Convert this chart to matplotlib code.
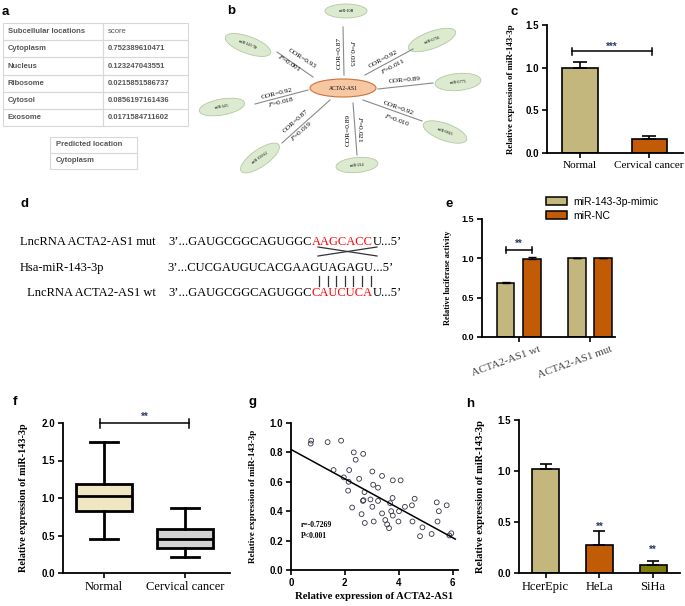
import matplotlib
matplotlib.use('Agg')
import matplotlib.pyplot as plt
import matplotlib.transforms as mtrans
from matplotlib.patches import Ellipse, Rectangle

plt.rcParams['font.family'] = 'Liberation Serif'
plt.rcParams['mathtext.fontset'] = 'stix'

W, H = 685, 606
SANS = 'Liberation Sans'
TAN = '#C4B77D'
ORANGE = '#C25B05'
OLIVE = '#7E7E0A'
STAR = '#2B3A67'

# ---- data ----
loc_names = ['Cytoplasm', 'Nucleus', 'Ribosome', 'Cytosol', 'Exosome']
loc_scores = ['0.752389610471', '0.123247043551', '0.0215851586737',
              '0.0856197161436', '0.0171584711602']
predicted = 'Cytoplasm'

hub = 'ACTA2-AS1'
mirnas = ['miR-10B', 'miR-6756', 'miR-6775', 'miR-6843',
          'miR-214', 'miR-199A2', 'miR-145', 'miR-143-3p']
cor = ['0.87', '0.92', '0.89', '0.92', '0.89', '0.87', '0.92', '0.93']
pval = ['0.035', '0.011', None, '0.010', '0.021', '0.019', '0.018', '0.001']

c_groups = ['Normal', 'Cervical cancer']
c_mean = [1.0, 0.165]
c_err = [0.07, 0.035]

d_names = ['LncRNA ACTA2-AS1 mut', 'Hsa-miR-143-3p', ' LncRNA ACTA2-AS1 wt']
d_seqs = [['3’...GAUGCGGCAGUGGC', 'AAGCACC', 'U...5’'],
          ['3’...CUCGAUGUCACGAAGUAGAGU...5’', '', ''],
          ['3’...GAUGCGGCAGUGGC', 'CAUCUCA', 'U...5’']]

e_groups = ['ACTA2-AS1 wt', 'ACTA2-AS1 mut']
e_mimic = [0.69, 1.0]
e_mimic_err = [0.015, 0.008]
e_nc = [0.99, 1.0]
e_nc_err = [0.03, 0.008]

f_groups = ['Normal', 'Cervical cancer']
f_whislo = [0.45, 0.21]
f_q1 = [0.83, 0.34]
f_med = [1.03, 0.45]
f_q3 = [1.19, 0.59]
f_whishi = [1.75, 0.87]

g_x = [0.75, 0.73, 1.36, 1.86, 2.33, 2.40, 2.68, 1.58, 2.16, 1.96,
       2.14, 2.53, 3.02, 3.38, 3.78, 4.07, 3.05, 3.23, 2.12, 2.73,
       2.95, 2.69, 2.67, 3.23, 3.68, 3.77, 4.59, 4.23, 4.49, 2.27,
       3.02, 3.72, 4.01, 3.38, 2.62, 3.78, 3.50, 3.07, 2.74, 3.99,
       4.51, 3.57, 3.64, 4.88, 4.79, 5.22, 5.41, 5.49, 5.44, 5.78,
       5.95, 5.88]
g_y = [0.88, 0.86, 0.87, 0.88, 0.80, 0.75, 0.79, 0.68, 0.68, 0.63,
       0.60, 0.62, 0.67, 0.64, 0.61, 0.61, 0.58, 0.56, 0.54, 0.53,
       0.48, 0.475, 0.47, 0.47, 0.455, 0.49, 0.485, 0.43, 0.44, 0.425,
       0.43, 0.40, 0.40, 0.385, 0.38, 0.37, 0.34, 0.33, 0.32, 0.33,
       0.33, 0.31, 0.285, 0.29, 0.23, 0.245, 0.46, 0.40, 0.33, 0.44,
       0.25, 0.235]
g_fit_x = [0, 6.1]
g_fit_y = [0.82, 0.21]

h_groups = ['HcerEpic', 'HeLa', 'SiHa']
h_mean = [1.02, 0.27, 0.08]
h_err = [0.05, 0.14, 0.04]

fig = plt.figure(figsize=(W / 100, H / 100), dpi=100)

# overlay in pixel coords for tables, network, sequences and letters
ov = fig.add_axes([0, 0, 1, 1])
ov.set_xlim(0, W)
ov.set_ylim(H, 0)
ov.axis('off')


def px_axes(l, t, r, b):
    ax = fig.add_axes([l / W, 1 - b / H, (r - l) / W, (b - t) / H])
    ax.set_facecolor('none')
    return ax


def style(ax, ylim, yticks, fs=7):
    for s in ['top', 'right']:
        ax.spines[s].set_visible(False)
    for s in ['left', 'bottom']:
        ax.spines[s].set_linewidth(1.3)
    ax.set_ylim(*ylim)
    ax.set_yticks(yticks)
    ax.set_yticklabels(['%.1f' % v for v in yticks], fontfamily=SANS,
                       fontweight='bold', fontsize=fs)
    ax.tick_params(width=1.2, length=3.5, pad=2)


def bracket(ax, x0, x1, y, tick, text, ty, fs=7):
    ax.plot([x0, x1], [y, y], color='black', lw=1.1, clip_on=False)
    for x in (x0, x1):
        ax.plot([x, x], [y - tick, y + tick], color='black', lw=1.1, clip_on=False)
    ax.text((x0 + x1) / 2, ty, text, ha='center', va='center', fontsize=fs,
            color=STAR, fontweight='bold', fontfamily=SANS)


# panel letters
for lab, x, y in [('a', 2, 15), ('b', 227, 14), ('c', 511, 15), ('d', 21, 207),
                  ('e', 446, 207), ('f', 13, 405), ('g', 249, 405), ('h', 466, 407)]:
    ov.text(x, y, lab, fontsize=9.5, fontweight='bold', fontfamily=SANS, va='baseline')

# ---- a: tables ----
tx0, tsplit, tx1, ty0, rh = 3, 103, 188, 23, 17.2
rows = [('Subcellular locations', 'score')] + list(zip(loc_names, loc_scores))
for i, (a, b) in enumerate(rows):
    y = ty0 + i * rh
    ov.add_patch(Rectangle((tx0, y), tsplit - tx0, rh, fill=False, ec='#D8D8D8', lw=0.8))
    ov.add_patch(Rectangle((tsplit, y), tx1 - tsplit, rh, fill=False, ec='#D8D8D8', lw=0.8))
    ov.text(tx0 + 5, y + rh / 2, a, fontsize=5.5, fontfamily=SANS, color='#555555',
            fontweight='bold', va='center')
    ov.text(tsplit + 5, y + rh / 2, b, fontsize=5.5, fontfamily=SANS, color='#555555',
            fontweight='bold' if i > 0 else 'normal', va='center')
for i, t in enumerate(['Predicted location', predicted]):
    y = 137 + i * 16
    ov.add_patch(Rectangle((50, y), 87, 16, fill=False, ec='#D8D8D8', lw=0.8))
    ov.text(56, y + 8, t, fontsize=5.5, fontfamily=SANS, color='#555555',
            fontweight='bold', va='center')

# ---- b: network ----
hub_xy = (343, 88)
nodes = [(346, 11, 0, 42, 14), (432, 40, -20, 50, 17), (458, 82, -5, 46, 17),
         (445, 132, 20, 46, 17), (357, 165, -5, 42, 15), (260, 158, -35, 46, 17),
         (222, 107, -10, 46, 16), (248, 45, 20, 48, 17)]
edges = [((343, 27), (344, 75)), ((365, 75), (413, 49)), ((378, 89), (433, 83)),
         ((363, 100), (422, 121)), ((353, 103), (357, 155)), ((330, 100), (282, 143)),
         ((308, 90), (255, 104)), ((277, 52), (313, 77))]
cor_pos = [(339, 53, 90), (383, 59, 28), (405, 80, 5), (398, 108, -20),
           (348, 130, 90), (296, 121, 42), (277, 94, 14), (302, 58, -33)]
p_pos = [(352, 53, 270), (393, 66, 28), None, (397, 120, -20),
         (360, 129, 270), (301, 131, 42), (281, 102, 14), (289, 63, -33)]
for (x0, y0), (x1, y1) in edges:
    ov.plot([x0, x1], [y0, y1], color='#8A8A8A', lw=0.8)
for name, (x, y, ang, w, h), cp, pp, cv, pv in zip(mirnas, nodes, cor_pos, p_pos, cor, pval):
    ov.add_patch(Ellipse((x, y), w, h, angle=ang, fc='#DCEACF', ec='#B4C8A2', lw=0.6))
    ov.text(x, y, name, fontsize=3, ha='center', va='center', rotation=-ang)
    ov.text(cp[0], cp[1], 'COR=' + cv, fontsize=5.3, ha='center', va='center',
            rotation=cp[2], rotation_mode='anchor')
    if pp is not None:
        ov.text(pp[0], pp[1], '$P$=' + pv, fontsize=5.3, ha='center', va='center',
                rotation=pp[2], rotation_mode='anchor')
ov.add_patch(Ellipse(hub_xy, 66, 18, fc='#F7C6A2', ec='#C8733E', lw=0.8))
ov.text(hub_xy[0], hub_xy[1], hub, fontsize=4, ha='center', va='center')

# ---- d: binding sequences ----
d_rows_y = [245, 271, 296]
d_name_x = [20, 20, 24]
d_seq_x = [168, 167, 168]
for name, seq, nx, sx, y in zip(d_names, d_seqs, d_name_x, d_seq_x, d_rows_y):
    ov.text(nx, y, name, fontsize=9, va='baseline')
    t = ov.text(sx, y, seq[0], fontsize=9, va='baseline')
    for part, col in zip(seq[1:], ['red', 'black']):
        if part:
            t = ov.annotate(part, xy=(1, 0), xycoords=t, fontsize=9, color=col,
                            va='bottom', ha='left')
ov.plot([318, 377], [247, 256], color='#333333', lw=0.9)
ov.plot([318, 377], [256, 247], color='#333333', lw=0.9)
for x in [319.5, 328, 336.5, 345, 353.5, 362.5, 371.5]:
    ov.plot([x, x], [276, 286], color='#333333', lw=0.9)

# ---- c: bar chart ----
ax = px_axes(547, 25, 683, 153)
style(ax, (0, 1.5), [0, 0.5, 1.0, 1.5])
ax.bar(range(2), c_mean, width=0.51, color=[TAN, ORANGE], edgecolor='black', lw=1.2)
ax.errorbar(range(2), c_mean, yerr=[[0, 0], c_err], fmt='none', ecolor='black',
            elinewidth=1.2, capsize=5, capthick=1.2)
ax.set_xlim(-0.478, 1.49)
ax.set_xticks(range(2))
ax.set_xticklabels(c_groups, fontsize=8)
ax.set_ylabel('Relative expression of miR-143-3p', fontsize=6.4, fontweight='bold')
ax.yaxis.set_label_coords((515 - 547) / 136, 0.5)
bracket(ax, -0.12, 1.04, 1.19, 0.045, '***', 1.245)

# ---- e: luciferase ----
ax = px_axes(482, 219, 615, 337)
style(ax, (0, 1.5), [0, 0.5, 1.0, 1.5], fs=6.5)
xs = [0, 1]
b1 = ax.bar([x - 0.186 for x in xs], e_mimic, width=0.25, color=TAN, edgecolor='black',
            lw=1.1, label='miR-143-3p-mimic')
b2 = ax.bar([x + 0.186 for x in xs], e_nc, width=0.25, color=ORANGE, edgecolor='black',
            lw=1.1, label='miR-NC')
ax.errorbar([x - 0.186 for x in xs], e_mimic, yerr=[[0, 0], e_mimic_err], fmt='none',
            ecolor='black', elinewidth=1, capsize=3, capthick=1)
ax.errorbar([x + 0.186 for x in xs], e_nc, yerr=[[0, 0], e_nc_err], fmt='none',
            ecolor='black', elinewidth=1, capsize=3, capthick=1)
ax.set_xlim(-0.516, 1.35)
ax.set_xticks(xs)
off = mtrans.ScaledTranslation(0.2, 0, fig.dpi_scale_trans)
ax.set_xticklabels(e_groups, fontsize=8, rotation=20, ha='right',
                   rotation_mode='anchor', color='#444444')
for lbl in ax.get_xticklabels():
    lbl.set_transform(lbl.get_transform() + off)
ax.set_ylabel('Relative luciferase activity', fontsize=6, fontweight='bold')
ax.yaxis.set_label_coords((452 - 482) / 133, 0.5)
bracket(ax, -0.186, 0.186, 1.106, 0.04, '**', 1.19)
fig.legend(handles=[b1, b2], loc='upper left', bbox_to_anchor=(546 / W, 1 - 197 / H),
           frameon=False, prop={'family': SANS, 'size': 7.5}, handlelength=2.0,
           handleheight=0.8, labelspacing=0.35, handletextpad=0.6,
           borderaxespad=0, borderpad=0)

# ---- f: box plot ----
ax = px_axes(63, 423, 230, 573)
style(ax, (0, 2.0), [0, 0.5, 1.0, 1.5, 2.0])
stats = [dict(whislo=a, q1=b, med=c, q3=d, whishi=e, label=l)
         for a, b, c, d, e, l in zip(f_whislo, f_q1, f_med, f_q3, f_whishi, f_groups)]
bp = ax.bxp(stats, positions=[0, 1], widths=0.68, patch_artist=True, showfliers=False,
            capwidths=0.35,
            boxprops=dict(lw=2), whiskerprops=dict(lw=2), capprops=dict(lw=2),
            medianprops=dict(color='black', lw=2))
for patch, col in zip(bp['boxes'], ['#EFE6C4', '#D3D3D3']):
    patch.set_facecolor(col)
ax.set_xlim(-0.506, 1.556)
ax.set_xticks([0, 1])
ax.set_xticklabels(f_groups, fontsize=9)
ax.set_ylabel('Relative expression of miR-143-3p', fontsize=7.3, fontweight='bold')
ax.yaxis.set_label_coords((28 - 63) / 167, 0.5)
bracket(ax, -0.05, 1.05, 2.0, 0.06, '**', 2.08)

# ---- g: scatter ----
ax = px_axes(291, 423, 458, 570)
style(ax, (0, 1.0), [0, 0.2, 0.4, 0.6, 0.8, 1.0])
ax.scatter(g_x, g_y, s=12, facecolors='none', edgecolors='#333344', linewidths=0.6,
           clip_on=False)
ax.plot(g_fit_x, g_fit_y, color='black', lw=1.1)
ax.set_xlim(0, 6.2)
ax.set_xticks([0, 2, 4, 6])
ax.set_xticklabels(['0', '2', '4', '6'], fontfamily=SANS, fontweight='bold', fontsize=7)
ax.set_xlabel('Relative expression of ACTA2-AS1', fontsize=7.7, fontweight='bold',
              labelpad=3)
ax.set_ylabel('Relative expression of miR-143-3p', fontsize=6.6, fontweight='bold')
ax.yaxis.set_label_coords((257 - 291) / 167, 0.5)
ax.text(0.35, 0.306, 'r=-0.7269', fontsize=5.5, fontweight='bold', va='center')
ax.text(0.35, 0.233, 'P<0.001', fontsize=5.5, fontweight='bold', va='center')

# ---- h: cell lines ----
ax = px_axes(519, 420, 680, 573)
style(ax, (0, 1.5), [0, 0.5, 1.0, 1.5])
ax.bar(range(3), h_mean, width=0.5, color=[TAN, ORANGE, OLIVE], edgecolor='black', lw=1.2)
ax.errorbar(range(3), h_mean, yerr=[[0, 0, 0], h_err], fmt='none', ecolor='black',
            elinewidth=1.2, capsize=4, capthick=1.2)
ax.set_xlim(-0.493, 2.5)
ax.set_xticks(range(3))
ax.set_xticklabels(h_groups, fontsize=9)
ax.set_ylabel('Relative expression of miR-143-3p', fontsize=7.6, fontweight='bold')
ax.yaxis.set_label_coords((485 - 519) / 161, 0.5)
for x, ty in zip([1, 2], [0.45, 0.23]):
    ax.text(x, ty, '**', ha='center', va='center', fontsize=7, color=STAR,
            fontweight='bold', fontfamily=SANS)

fig.savefig('out.png', dpi=100)
